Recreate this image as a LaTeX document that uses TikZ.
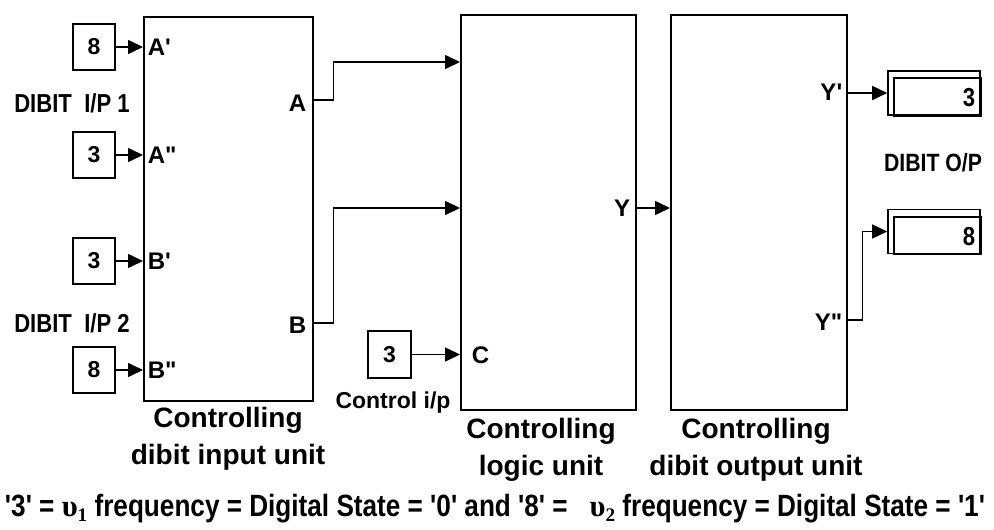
\documentclass[tikz,border=0pt]{standalone}
\usepackage{fontspec}
\setmainfont{Liberation Sans}[Ligatures=TeXOff]
\newfontfamily\narrowf{Liberation Sans}[FakeStretch=0.85,Ligatures=TeXOff]
\newfontfamily\serifb{Liberation Serif}[Ligatures=TeXOff]
\usetikzlibrary{arrows.meta}
\begin{document}
\begin{tikzpicture}[x=1pt,y=-1pt,
  line width=1.6pt,
  unitbox/.style={draw, inner sep=0pt, anchor=north west},
  srcbox/.style={draw, inner sep=0pt, minimum width=42pt, minimum height=46pt,
     font=\bfseries\fontsize{23}{23}\selectfont},
  dispbox/.style={draw, inner sep=0pt, minimum width=92pt, minimum height=44pt},
  dispnum/.style={anchor=east, inner sep=0pt, font=\narrowf\bfseries\fontsize{26}{26}\selectfont},
  port/.style={inner sep=0pt, font=\bfseries\fontsize{24}{24}\selectfont},
  biglabel/.style={inner sep=0pt, font=\narrowf\bfseries\fontsize{26}{26}\selectfont},
  unitlabel/.style={inner sep=0pt, align=center, font=\bfseries\fontsize{28}{37}\selectfont},
  arr/.style={-{Triangle[length=15pt,width=14pt]}}
]
\useasboundingbox (0,0) rectangle (994,530);

% units
\node[unitbox, minimum width=169pt, minimum height=384pt] (inu) at (143,16) {};
\node[unitbox, minimum width=175pt, minimum height=395pt] (lu) at (460,14) {};
\node[unitbox, minimum width=176pt, minimum height=395pt] (ou) at (670,14) {};

% sources
\node[srcbox] (s1) at (94,47) {8};
\node[srcbox] (s2) at (94,155) {3};
\node[srcbox] (s3) at (94,261) {3};
\node[srcbox] (s4) at (94,370) {8};
\node[srcbox, minimum width=43pt, minimum height=47pt] (sc) at (389.5,354.5) {3};

\draw[arr] (s1) -- (s1 -| inu.west);
\draw[arr] (s2) -- (s2 -| inu.west);
\draw[arr] (s3) -- (s3 -| inu.west);
\draw[arr] (s4) -- (s4 -| inu.west);
\draw[arr] (sc) -- (sc -| lu.west);

% port labels
\node[port, anchor=west] (pa1) at (147,47) {A'};
\node[port, anchor=west] (pa2) at (147,155) {A"};
\node[port, anchor=west] (pb1) at (147,261) {B'};
\node[port, anchor=west] (pb2) at (147,370) {B"};
\node[port, anchor=east] (pa) at (307,103) {A};
\node[port, anchor=east] (pb) at (307,325) {B};
\node[port, anchor=west] (pc) at (471,355) {C};
\node[port, anchor=east] (py) at (631,208) {Y};
\node[port, anchor=east] (py1) at (843,92) {Y'};
\node[port, anchor=east] (py2) at (843,322) {Y"};

% displays
\node[dispbox] (d1) at (934,93) {};
\node[dispbox] (d2) at (934,231.5) {};
\draw ([shift={(7,8)}]d1.north west) rectangle (d1.south east);
\draw ([shift={(7,8)}]d2.north west) rectangle (d2.south east);
\node[dispnum] (n1) at (976,98) {3};
\node[dispnum] (n2) at (976,236.5) {8};

% connections
\draw[arr] (inu.east |- 0,100) -- ++(20,0) |- (lu.west |- 0,62);
\draw[arr] (inu.east |- 0,323) -- ++(20,0) |- (lu.west |- 0,208);
\draw[arr] (lu.east |- 0,208) -- (ou.west |- 0,208);
\draw[arr] (ou.east |- d1.west) -- (d1.west);
\draw[arr] (ou.east |- 0,320) -- ++(15,0) |- (d2.west);

% texts
\node[biglabel] (t1) at (72,103) {DIBIT\ \ I/P 1};
\node[biglabel] (t2) at (72,323) {DIBIT\ \ I/P 2};
\node[biglabel, font=\narrowf\bfseries\fontsize{25}{25}\selectfont] (t3) at (933,163) {DIBIT O/P};
\node[inner sep=0pt, font=\bfseries\fontsize{23}{23}\selectfont] (t4) at (393,403) {Control i/p};
\node[unitlabel] (u1) at (228,439) {Controlling\\dibit input unit};
\node[unitlabel] (u2) at (541,450) {Controlling\\logic unit};
\node[unitlabel] (u3) at (756,450) {Controlling\\dibit output unit};

\node[inner sep=0pt] (foot) at (495,509) {\resizebox{980pt}{!}{\narrowf\bfseries\fontsize{24}{24}\selectfont
'3' = {\serifb\bfseries υ\raisebox{-0.15em}{\fontsize{15}{15}\selectfont 1}} frequency = Digital State = '0' and '8' =\ \ \ {\serifb\bfseries υ\raisebox{-0.15em}{\fontsize{15}{15}\selectfont 2}} frequency = Digital State = '1'}};
\end{tikzpicture}
\end{document}
